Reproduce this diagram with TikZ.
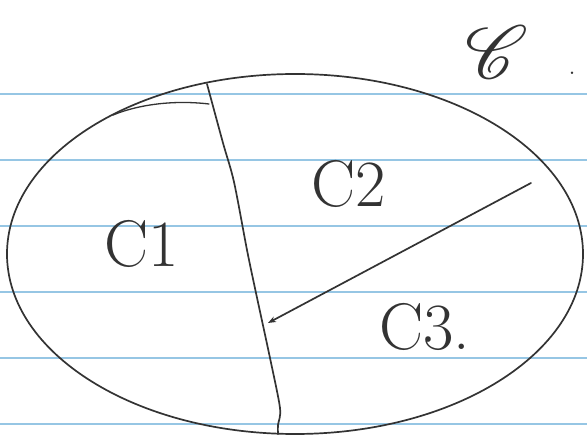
\documentclass[tikz,border=0pt]{standalone}
\usepackage{fontspec}
\usepackage{mathrsfs}
\usetikzlibrary{arrows.meta}
\definecolor{ruleblue}{RGB}{150,198,228}
\tikzset{
  ruled/.style={draw=ruleblue, line width=1.3pt},
  ink/.style={draw=black!80, line width=1.7pt, line cap=round, line join=round},
  lbl/.style={inner sep=0pt, text=black!80, font=\fontsize{66}{66}\selectfont}
}
\begin{document}
\begin{tikzpicture}[x=1pt,y=-1pt]
\useasboundingbox (0,0) rectangle (587,443);
\fill[white] (0,0) rectangle (587,443);
% ruled paper lines
\foreach \yy in {94,160,226,292,358,424}
  \draw[ruled] (0,\yy) -- (587,\yy);
% ellipse
\coordinate (ec) at (295,254);
\draw[ink] (ec) ellipse [x radius=288, y radius=180];
% divider
\coordinate (d0) at (207,84);
\coordinate (d1) at (278,434);
\draw[ink] plot[smooth] coordinates {(d0) (223,143) (234,182) (247,250) (256,293) (270,358) (280,408) (278,425) (d1)};
% small arc
\coordinate (s0) at (113,115);
\coordinate (s1) at (209,104);
\draw[ink, line width=1.3pt] (s0) .. controls (140,104) and (175,100) .. (s1);
% arrow
\coordinate (a0) at (531,183);
\coordinate (a1) at (268,323);
\draw[ink, -{Stealth[length=8pt,width=6pt]}] (a0) -- (a1);
% labels
\node[lbl] (c1) at (142,244) {C1};
\node[lbl] (c2) at (349,184) {C2};
\node[lbl] (c3) at (425,327) {C3.};
\node[inner sep=0pt, text=black!80] (cc) at (497,52) {\scalebox{7.5}{$\mathscr{C}$}};
\node[inner sep=0pt, text=black!80, font=\fontsize{30}{30}\selectfont] (dot) at (572,73) {.};
\end{tikzpicture}
\end{document}
